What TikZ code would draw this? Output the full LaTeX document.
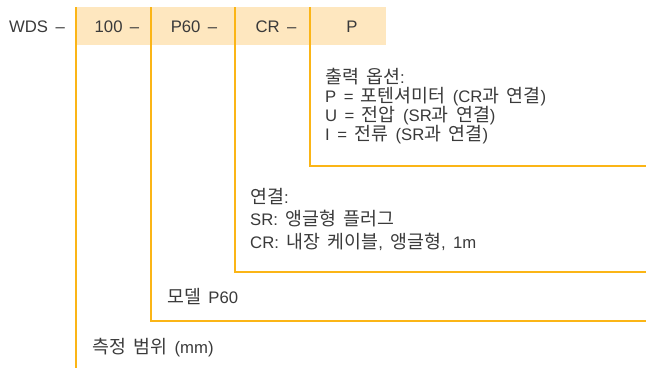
\documentclass[tikz,border=0pt]{standalone}
\usepackage{fontspec}
\setmainfont{Liberation Sans}[WordSpace=1.6]
\newfontfamily\kr{Noto Sans CJK KR}[Scale=1.1, WordSpace=1.8]
\definecolor{bandfill}{HTML}{FEE7BF}
\definecolor{rule}{HTML}{FBB516}
\definecolor{ink}{HTML}{3A3A3A}

\begin{document}
\begin{tikzpicture}[x=1pt, y=-1pt,
    every node/.style={text=ink, inner sep=0pt, font=\fontsize{16.7}{19}\selectfont},
    lead/.style={draw=rule, line width=2.6pt},
    lbl/.style={anchor=base west, align=left}]

    \useasboundingbox (0,0) rectangle (646,368);
    \fill[bandfill] (75,7) rectangle (386,45);

    \coordinate (t0) at (76,7);
    \coordinate (t1) at (151,7);
    \coordinate (t2) at (235,7);
    \coordinate (t3) at (310,7);
    \coordinate (e0) at (76,368);
    \coordinate (e1) at (646,321);
    \coordinate (e2) at (646,272);
    \coordinate (e3) at (646,166);

    \draw [lead] (t0) -- (e0);
    \draw [lead] (t1) |- (e1);
    \draw [lead] (t2) |- (e2);
    \draw [lead] (t3) |- (e3);

    \node (wds) at (37,27) {WDS –};
    \node (rng) at (117,27) {100 –};
    \node (mdl) at (194,27) {P60 –};
    \node (con) at (276,27) {CR –};
    \node (out) at (352,27) {P};

    % base of a multi-line node is its last line
    \node[lbl] (outtxt) at (325,140) {{\kr 출력 옵션}:\\P = {\kr 포텐셔미터} (CR{\kr 과 연결})\\U = {\kr 전압} (SR{\kr 과 연결})\\I = {\kr 전류} (SR{\kr 과 연결})};
    \node[lbl, font=\fontsize{16.7}{22.5}\selectfont] (contxt) at (250,248) {{\kr 연결}:\\SR: {\kr 앵글형 플러그}\\CR: {\kr 내장 케이블}, {\kr 앵글형}, 1m};
    \node[lbl] (mdltxt) at (167,303) {{\kr 모델} P60};
    \node[lbl] (rngtxt) at (92,353) {{\kr 측정 범위} (mm)};

\end{tikzpicture}
\end{document}
